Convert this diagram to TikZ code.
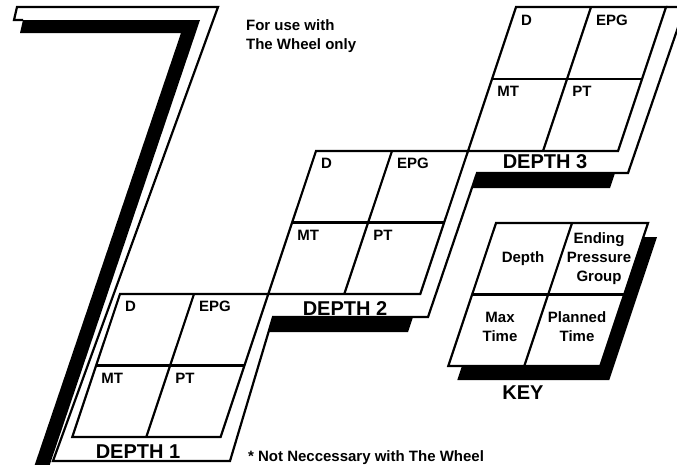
\documentclass[tikz,border=0pt]{standalone}
\usepackage{fontspec}
\setmainfont{Liberation Sans}

\begin{document}
\begin{tikzpicture}[x=1pt,y=-1pt,line width=2.2pt,
    shadow/.style={fill=black,draw=none},
    cell/.style={draw=black,line join=miter},
    lbl/.style={inner sep=0pt,anchor=base west,font=\fontsize{15}{18}\selectfont\bfseries},
    depthlbl/.style={inner sep=0pt,anchor=base,font=\fontsize{20}{24}\selectfont\bfseries},
    keytxt/.style={inner sep=0pt,align=center,font=\fontsize{15}{19}\selectfont\bfseries}]
    \useasboundingbox (0,0) rectangle (677,464);
    \clip (0,0) rectangle (677,464);

    % Shadows
    \fill[shadow] (23,20) -- (200,20) -- (48,470) -- (33,470) -- (181,33) -- (20,33) -- cycle;
    \fill[shadow] (273,317) -- (413,317) -- (408,332) -- (268,332) -- cycle;
    \fill[shadow] (477,173) -- (615,173) -- (610,188) -- (472,188) -- cycle;
    \fill[shadow] (505,237) -- (657,237) -- (609.3,380) -- (457.3,380) -- cycle;

    % Band outline
    \draw[cell] (23,20) -- (14,20) -- (17,7) -- (218,7) -- (53,461) -- (230,461)
        -- (273,317) -- (428,317) -- (477,173) -- (628,173) -- (685,7) -- (666,7);

    % Depth 1
    \draw[cell] (120,294) -- (268.3,294) -- (220.6,437) -- (72.3,437) -- cycle;
    \draw[cell] (96.2,365.5) -- (244.5,365.5);
    \draw[cell] (194,294) -- (146.3,437);
    \node[lbl] (d1d) at (124,311.5) {D};
    \node[lbl] (d1epg) at (198,311.5) {EPG};
    \node[lbl] (d1mt) at (100.2,383) {MT};
    \node[lbl] (d1pt) at (174.2,383) {PT};
    \node[depthlbl] (d1) at (138,458) {DEPTH 1};

    % Depth 2
    \draw[cell] (316,151) -- (468,151) -- (420.3,294) -- (268.3,294) -- cycle;
    \draw[cell] (292.2,222.5) -- (444.2,222.5);
    \draw[cell] (392,151) -- (344.3,294);
    \node[lbl] (d2d) at (320,168.5) {D};
    \node[lbl] (d2epg) at (396,168.5) {EPG};
    \node[lbl] (d2mt) at (296.2,240) {MT};
    \node[lbl] (d2pt) at (372.2,240) {PT};
    \node[depthlbl] (d2) at (345,315) {DEPTH 2};

    % Depth 3
    \draw[cell] (516,7) -- (666,7) -- (618,151) -- (468,151) -- cycle;
    \draw[cell] (492,79) -- (642,79);
    \draw[cell] (591,7) -- (543,151);
    \node[lbl] (d3d) at (520,25) {D};
    \node[lbl] (d3epg) at (595,25) {EPG};
    \node[lbl] (d3mt) at (496.2,96.5) {MT};
    \node[lbl] (d3pt) at (571.2,96.5) {PT};
    \node[depthlbl] (d3) at (545,168) {DEPTH 3};

    % Key
    \draw[cell,fill=white] (496,223) -- (648,223) -- (600.3,366) -- (448.3,366) -- cycle;
    \draw[cell] (472.2,294.5) -- (624.2,294.5);
    \draw[cell] (572,223) -- (524.3,366);
    \node[keytxt] (kd) at (523,259) {Depth};
    \node[keytxt] (kepg) at (599,259) {Ending\\Pressure\\Group};
    \node[keytxt] (kmt) at (500,327) {Max\\Time};
    \node[keytxt] (kpt) at (577,327) {Planned\\Time};
    \node[depthlbl] (key) at (523,399) {KEY};

    % Notes
    \node[lbl,anchor=north west,align=left,font=\fontsize{15}{19}\selectfont\bfseries] (only) at (245,19) {For use with\\The Wheel only};
    \node[lbl] (note) at (247,461) {* Not Neccessary with The Wheel};
\end{tikzpicture}
\end{document}
